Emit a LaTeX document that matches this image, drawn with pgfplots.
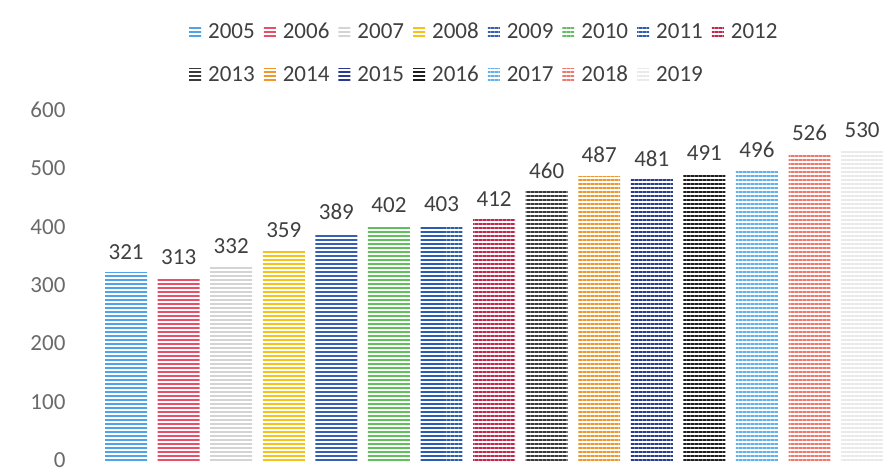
\documentclass[border=0pt]{standalone}
\usepackage{pgfplots}
\pgfplotsset{compat=1.18}
\usetikzlibrary{patterns.meta}
\usepackage{fontspec}
\setmainfont{Carlito}
\definecolor{c05}{HTML}{4FA3E8}
\definecolor{c06}{HTML}{E8506A}
\definecolor{c07}{HTML}{D4D4D4}
\definecolor{c08}{HTML}{F5C21B}
\definecolor{c09}{HTML}{3560B5}
\definecolor{c10}{HTML}{62BF5E}
\definecolor{c11}{HTML}{2C5CB2}
\definecolor{c12}{HTML}{C8234A}
\definecolor{c13}{HTML}{3A3A3A}
\definecolor{c14}{HTML}{F0962A}
\definecolor{c15}{HTML}{2A3C92}
\definecolor{c16}{HTML}{1E1E1E}
\definecolor{c17}{HTML}{5FB2EE}
\definecolor{c18}{HTML}{F2766A}
\definecolor{c19}{HTML}{E8E8E8}
\definecolor{tick}{HTML}{6A6A6A}
\definecolor{lab}{HTML}{404040}
\tikzset{hb/.style={draw=none, pattern={Lines[angle=0,distance=2pt,line width=1.05pt]}, pattern color=#1}}
\begin{document}
\begin{tikzpicture}
\begin{axis}[
  name=ax,
  scale only axis,
  width=398pt, height=175pt,
  ybar,
  bar width=21pt,
  every axis plot/.append style={bar shift=0pt},
  xmin=-0.6, xmax=14.55,
  ymin=0, ymax=600,
  xtick=\empty,
  ytick={0,100,...,600},
  axis line style={draw=none},
  major tick length=0pt,
  yticklabel style={text=tick, font=\fontsize{11.5}{13}\selectfont, xshift=-11pt},
  /pgf/number format/assume math mode=true,
  nodes near coords,
  every node near coord/.append style={text=lab, font=\fontsize{11.5}{13}\selectfont, yshift=3pt},
  legend columns=8,
  legend style={draw=none, fill=none, at={(rel axis cs:0.49,1)}, anchor=south, yshift=8.5pt,
    font=\fontsize{11.5}{13}\selectfont, text=lab, row sep=8pt,
    /tikz/every even column/.append style={column sep=2pt}},
  legend cell align=left,
  legend image code/.code={\draw[#1, draw=none] (0.5pt,-3.2pt) rectangle (6.5pt,3.2pt); \path (0pt,0pt) (8pt,0pt);},
  clip=false,
]
\addplot[hb=c05] coordinates {(0,321)}; \addlegendentry{2005}
\addplot[hb=c06] coordinates {(1,313)}; \addlegendentry{2006}
\addplot[hb=c07] coordinates {(2,332)}; \addlegendentry{2007}
\addplot[hb=c08] coordinates {(3,359)}; \addlegendentry{2008}
\addplot[hb=c09] coordinates {(4,389)}; \addlegendentry{2009}
\addplot[hb=c10] coordinates {(5,402)}; \addlegendentry{2010}
\addplot[hb=c11] coordinates {(6,403)}; \addlegendentry{2011}
\addplot[hb=c12] coordinates {(7,412)}; \addlegendentry{2012}
\addplot[hb=c13] coordinates {(8,460)}; \addlegendentry{2013}
\addplot[hb=c14] coordinates {(9,487)}; \addlegendentry{2014}
\addplot[hb=c15] coordinates {(10,481)}; \addlegendentry{2015}
\addplot[hb=c16] coordinates {(11,491)}; \addlegendentry{2016}
\addplot[hb=c17] coordinates {(12,496)}; \addlegendentry{2017}
\addplot[hb=c18] coordinates {(13,526)}; \addlegendentry{2018}
\addplot[hb=c19] coordinates {(14,530)}; \addlegendentry{2019}
\end{axis}
\pgfresetboundingbox
\path ([xshift=-47.25pt,yshift=-6pt]ax.south west) rectangle ([yshift=55pt]ax.north east);
\end{tikzpicture}
\end{document}
